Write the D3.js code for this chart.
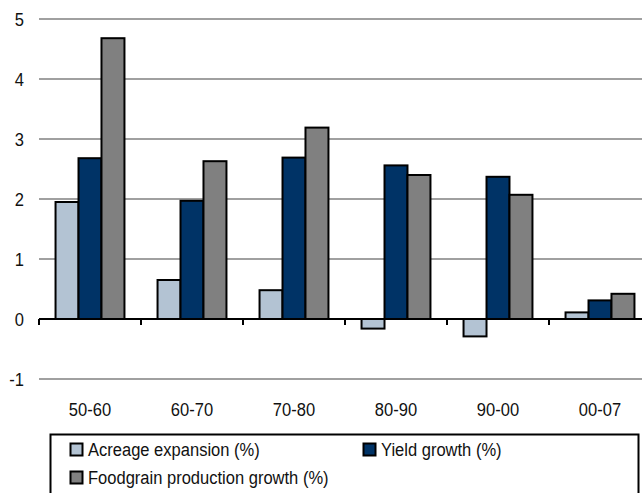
<!DOCTYPE html>
<html>
<head>
<meta charset="utf-8">
<script src="https://cdn.jsdelivr.net/npm/d3@7"></script>
<style>
body { margin: 0; background: #fff; }
text { font-family: "Liberation Sans", Arial, sans-serif; fill: #111; }
</style>
</head>
<body>
<svg id="canvas"></svg>
<script>
let width = 642,
height = 493

let periods = ['50-60', '60-70', '70-80', '80-90', '90-00', '00-07']
let acreage = [1.95, 0.65, 0.48, -0.16, -0.29, 0.11]
let yieldGrowth = [2.68, 1.97, 2.69, 2.56, 2.37, 0.31]
let foodgrain = [4.68, 2.63, 3.19, 2.40, 2.07, 0.42]
let seriesNames = ['Acreage expansion (%)', 'Yield growth (%)', 'Foodgrain production growth (%)']
let colors = ['#b3c3d3', '#003366', '#808080']
let yTicks = [-1, 0, 1, 2, 3, 4, 5]

// reference font is a bit condensed
let squeeze = 0.87
let fontSize = 19

let canvas = d3.select('#canvas')
.attr('width', width)
.attr('height', height)

let x = d3.scaleBand().domain(periods).range([39, 651])
let y = d3.scaleLinear().domain([-1, 5]).range([379, 19])

// gridlines
canvas.selectAll('line.grid')
.data(yTicks.filter(t => t !== 0))
.join('line')
.attr('class', 'grid')
.attr('x1', 39).attr('x2', width)
.attr('y1', d => y(d)).attr('y2', d => y(d))
.attr('stroke', '#a0a0a0')
.attr('stroke-width', 2)

canvas.selectAll('text.ytick')
.data(yTicks)
.join('text')
.attr('class', 'ytick')
.attr('transform', d => `translate(24, ${y(d) + 7}) scale(${squeeze}, 1)`)
.attr('text-anchor', 'end')
.attr('font-size', fontSize)
.text(d => d)

let series = [acreage, yieldGrowth, foodgrain]
let inner = d3.scaleBand().domain([0, 1, 2]).range([0, x.bandwidth()]).paddingOuter(0.72).paddingInner(0)

series.forEach((vals, s) => {
    canvas.selectAll('rect.s' + s)
    .data(vals)
    .join('rect')
    .attr('class', 's' + s)
    .attr('x', (d, i) => x(periods[i]) + inner(s))
    .attr('width', inner.bandwidth())
    .attr('y', d => y(Math.max(0, d)))
    .attr('height', d => Math.abs(y(d) - y(0)))
    .attr('fill', colors[s])
    .attr('stroke', '#000')
    .attr('stroke-width', 2)
})

// zero axis with ticks
canvas.append('line')
.attr('x1', 39).attr('x2', width)
.attr('y1', y(0)).attr('y2', y(0))
.attr('stroke', '#000').attr('stroke-width', 2)

canvas.selectAll('line.xtick')
.data(periods.concat(['end']))
.join('line')
.attr('class', 'xtick')
.attr('x1', (d, i) => 39 + i * x.bandwidth())
.attr('x2', (d, i) => 39 + i * x.bandwidth())
.attr('y1', y(0)).attr('y2', y(0) + 6)
.attr('stroke', '#000').attr('stroke-width', 2)

canvas.selectAll('text.xlabel')
.data(periods)
.join('text')
.attr('class', 'xlabel')
.attr('transform', d => `translate(${x(d) + x.bandwidth() / 2}, 415.5) scale(${squeeze}, 1)`)
.attr('text-anchor', 'middle')
.attr('font-size', fontSize)
.text(d => d)

// legend
canvas.append('rect')
.attr('x', 50.5).attr('y', 434.5)
.attr('width', 588).attr('height', 70)
.attr('fill', 'none').attr('stroke', '#000').attr('stroke-width', 2)

let legendPos = [[70, 456], [363, 456], [70, 484]]
let legend = canvas.selectAll('g.legend')
.data(seriesNames)
.join('g')
.attr('class', 'legend')
.attr('transform', (d, i) => `translate(${legendPos[i][0]}, ${legendPos[i][1]})`)

legend.append('rect')
.attr('x', 0.5).attr('y', -12.5)
.attr('width', 12).attr('height', 12)
.attr('fill', (d, i) => colors[i])
.attr('stroke', '#000').attr('stroke-width', 2)

legend.append('text')
.attr('transform', `translate(18, 0) scale(${squeeze}, 1)`)
.attr('font-size', fontSize)
.text(d => d)
</script>
</body>
</html>
